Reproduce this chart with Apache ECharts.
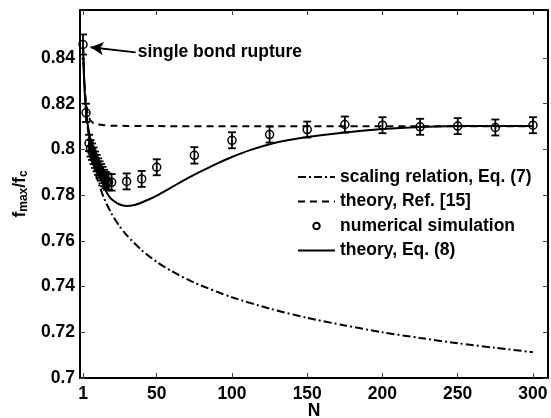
<!DOCTYPE html>
<html>
<head>
<meta charset="utf-8">
<script src="https://cdn.jsdelivr.net/npm/echarts@6/dist/echarts.min.js"></script>
<style>
  html, body { margin: 0; padding: 0; background: #fff; }
  #chart { width: 551px; height: 418px; }
</style>
</head>
<body>
<div id="chart"></div>
<script>
// tick labels
const nTicks = [1, 50, 100, 150, 200, 250, 300];
const fTicks = [0.7, 0.72, 0.74, 0.76, 0.78, 0.8, 0.82, 0.84];

// scaling relation, Eq. (7)  (dash-dot)
const scalingN = [1, 2, 3, 4, 5, 6, 7, 8, 10, 12, 15, 20, 25, 30, 40, 50, 60, 75, 100, 125, 150, 175, 200, 225, 250, 275, 300];
const scalingF = [0.845, 0.8275, 0.8174, 0.8104, 0.8049, 0.8005, 0.7968, 0.7936, 0.7882, 0.7839, 0.7786, 0.7719, 0.7667, 0.7625, 0.7559, 0.7508, 0.7467, 0.7417, 0.7353, 0.7304, 0.7263, 0.7230, 0.7200, 0.7175, 0.7152, 0.7132, 0.7113];

// theory, Ref. [15]  (dashed)
const refN = [1, 2, 3, 4, 5, 6, 8, 10, 15, 20, 30, 50, 100, 200, 300];
const refF = [0.845, 0.8285, 0.8205, 0.8162, 0.8138, 0.8126, 0.8115, 0.8110, 0.8106, 0.8104, 0.8103, 0.8102, 0.8101, 0.8101, 0.8101];

// numerical simulation (markers + error bars)
const simN = [1, 3, 5, 6, 7, 8, 9, 10, 11, 12, 13, 14, 15, 16, 17, 18, 20, 30, 40, 50, 75, 100, 125, 150, 175, 200, 225, 250, 275, 300];
const simF = [0.8459, 0.8160, 0.8028, 0.8005, 0.7990, 0.7972, 0.7955, 0.7940, 0.7925, 0.7912, 0.7900, 0.7888, 0.7875, 0.7866, 0.7860, 0.7857, 0.7856, 0.7860, 0.7871, 0.7922, 0.7974, 0.8040, 0.8065, 0.8087, 0.8109, 0.8106, 0.8099, 0.8102, 0.8096, 0.8106];
const simErr = [0.0044, 0.0040, 0.0036, 0.0036, 0.0036, 0.0036, 0.0036, 0.0036, 0.0036, 0.0036, 0.0036, 0.0036, 0.0036, 0.0036, 0.0036, 0.0036, 0.0036, 0.0035, 0.0035, 0.0035, 0.0036, 0.0035, 0.0035, 0.0035, 0.0035, 0.0035, 0.0035, 0.0035, 0.0035, 0.0035];

// theory, Eq. (8)  (solid)
const eq8N = [1, 2, 3, 4, 5, 6, 7, 8, 10, 12, 14, 16, 18, 20, 25, 30, 35, 40, 45, 50, 60, 70, 80, 90, 100, 112, 125, 137, 150, 175, 200, 225, 250, 275, 300];
const eq8F = [0.845, 0.8265, 0.8175, 0.8115, 0.8075, 0.8045, 0.8015, 0.7985, 0.7935, 0.7892, 0.7855, 0.7822, 0.7798, 0.7782, 0.7760, 0.7753, 0.7757, 0.7768, 0.7782, 0.7798, 0.7835, 0.7872, 0.7906, 0.7938, 0.7967, 0.7997, 0.8023, 0.8040, 0.8054, 0.8074, 0.8089, 0.8098, 0.8102, 0.8103, 0.8103];

// annotation arrow (tail -> head), data coordinates
const arrowFrom = [36, 0.8425];
const arrowTo = [6, 0.8447];

const FONT = 'Liberation Sans, Arial, Helvetica, sans-serif';
const FS = 17.5;

const pairs = (xs, ys) => xs.map((x, i) => [x, ys[i]]);
const errData = simN.map((n, i) => [n, simF[i] - simErr[i], simF[i] + simErr[i]]);

function renderErrorBar(params, api) {
  const n = api.value(0);
  const top = api.coord([n, api.value(2)]);
  const bot = api.coord([n, api.value(1)]);
  const half = 4;
  const style = { stroke: '#000', lineWidth: 1.8 };
  return {
    type: 'group',
    children: [
      { type: 'line', shape: { x1: top[0], y1: top[1], x2: bot[0], y2: bot[1] }, style: style },
      { type: 'line', shape: { x1: top[0] - half, y1: top[1], x2: top[0] + half, y2: top[1] }, style: style },
      { type: 'line', shape: { x1: bot[0] - half, y1: bot[1], x2: bot[0] + half, y2: bot[1] }, style: style }
    ]
  };
}

const chart = echarts.init(document.getElementById('chart'));

const tickStyle = { inside: true, length: 5, lineStyle: { color: '#444', width: 1 } };
const lineAxis = { show: true, onZero: false, lineStyle: { color: '#000', width: 2 } };
const labelStyle = { color: '#000', fontFamily: FONT, fontSize: FS, fontWeight: 'bold' };
// line legend entries: hide the symbol dot, keep the line style
const noDot = { color: 'rgba(0,0,0,0)', borderWidth: 0, opacity: 0 };

const option = {
  animation: false,
  backgroundColor: '#fff',
  grid: { left: 80, right: 3, top: 10, bottom: 40, outerBoundsMode: 'none', containLabel: false },
  legend: {
    orient: 'vertical',
    left: 297,
    top: 168,
    padding: 0,
    itemWidth: 37,
    itemHeight: 8,
    itemGap: 6.5,
    textStyle: labelStyle,
    data: [
      { name: 'scaling relation, Eq. (7)', itemStyle: noDot },
      { name: 'theory, Ref. [15]', itemStyle: noDot },
      { name: 'numerical simulation' },
      { name: 'theory, Eq. (8)', itemStyle: noDot }
    ]
  },
  xAxis: [
    {
      type: 'value', min: -1, max: 310,
      name: 'N', nameLocation: 'middle', nameGap: 24, nameMoveOverlap: false, nameTextStyle: labelStyle,
      axisLine: lineAxis,
      axisTick: Object.assign({ customValues: nTicks }, tickStyle),
      axisLabel: Object.assign({ customValues: nTicks, margin: 7 }, labelStyle),
      splitLine: { show: false }
    },
    {
      type: 'value', min: -1, max: 310, position: 'top',
      axisLine: lineAxis,
      axisTick: Object.assign({ customValues: nTicks }, tickStyle),
      axisLabel: { show: false },
      splitLine: { show: false }
    }
  ],
  yAxis: [
    {
      type: 'value', min: 0.7, max: 0.861,
      name: '{m|f}{s|max}{m|/f}{s|c}', nameLocation: 'middle', nameRotate: 90, nameGap: 50, nameMoveOverlap: false,
      nameTextStyle: {
        rich: {
          m: { fontFamily: FONT, fontSize: FS, fontWeight: 'bold', color: '#000' },
          s: { fontFamily: FONT, fontSize: 12, fontWeight: 'bold', color: '#000', padding: [8, 0, 0, 0] }
        }
      },
      axisLine: lineAxis,
      axisTick: Object.assign({ customValues: fTicks }, tickStyle),
      axisLabel: Object.assign({ customValues: fTicks, margin: 5 }, labelStyle),
      splitLine: { show: false }
    },
    {
      type: 'value', min: 0.7, max: 0.861, position: 'right',
      axisLine: lineAxis,
      axisTick: Object.assign({ customValues: fTicks }, tickStyle),
      axisLabel: { show: false },
      splitLine: { show: false }
    }
  ],
  series: [
    {
      name: 'scaling relation, Eq. (7)', type: 'line', data: pairs(scalingN, scalingF),
      symbol: 'none', smooth: 0.25, color: '#000',
      lineStyle: { color: '#000', width: 2, type: [8, 3, 2, 3] }
    },
    {
      name: 'theory, Ref. [15]', type: 'line', data: pairs(refN, refF),
      symbol: 'none', smooth: 0.25, smoothMonotone: 'x', color: '#000',
      lineStyle: { color: '#000', width: 2, type: [7, 5] }
    },
    {
      name: 'error bars', type: 'custom', data: errData,
      encode: { x: 0, y: [1, 2] }, renderItem: renderErrorBar, z: 3
    },
    {
      name: 'numerical simulation', type: 'line', data: pairs(simN, simF),
      symbol: 'circle', symbolSize: 8, showSymbol: true, z: 4,
      lineStyle: { opacity: 0 },
      itemStyle: { color: 'rgba(0,0,0,0)', borderColor: '#000', borderWidth: 1.5 },
      markLine: {
        silent: true,
        symbol: ['none', 'arrow'],
        symbolSize: [10, 13],
        lineStyle: { color: '#000', width: 1.8, type: 'solid' },
        label: {
          show: true, position: 'start', distance: 2,
          formatter: 'single bond rupture',
          color: '#000', fontFamily: FONT, fontSize: FS, fontWeight: 'bold'
        },
        data: [[{ coord: arrowFrom }, { coord: arrowTo }]]
      }
    },
    {
      name: 'theory, Eq. (8)', type: 'line', data: pairs(eq8N, eq8F),
      symbol: 'none', smooth: 0.25, color: '#000',
      lineStyle: { color: '#000', width: 2 }
    }
  ]
};

chart.setOption(option);
</script>
</body>
</html>
